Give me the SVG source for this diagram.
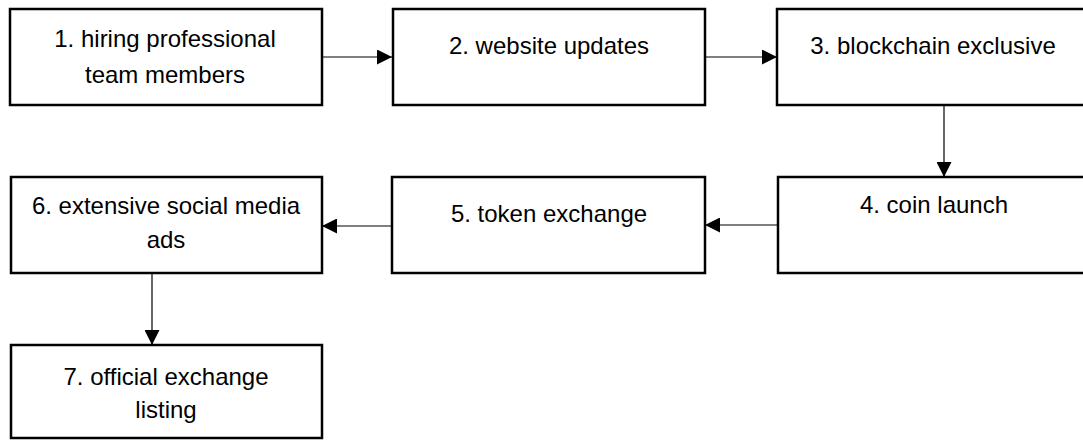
<svg xmlns="http://www.w3.org/2000/svg" width="1083" height="441" viewBox="0 0 1083 441">
<style>
  .box { fill: #ffffff; stroke: #000000; stroke-width: 2.5; }
  .lbl { font-family: "Liberation Sans", Arial, sans-serif; font-size: 24px; fill: #000000; text-anchor: middle; }
  .conn { stroke: #000000; stroke-width: 1.2; fill: none; marker-end: url(#arr); }
</style>
<defs>
  <marker id="arr" viewBox="0 0 15 15" refX="15" refY="7.5" markerWidth="15" markerHeight="15" markerUnits="userSpaceOnUse" orient="auto">
    <path d="M0,0 L15,7.5 L0,15 Z" fill="#000000"/>
  </marker>
</defs>
<rect width="1083" height="441" fill="#ffffff"/>
<g id="connectors">
  <line class="conn" x1="322" y1="57" x2="392" y2="57"/>
  <line class="conn" x1="705" y1="57" x2="777" y2="57"/>
  <line class="conn" x1="944" y1="105" x2="944" y2="177"/>
  <line class="conn" x1="778" y1="225" x2="705" y2="225"/>
  <line class="conn" x1="392" y1="226" x2="322" y2="226"/>
  <line class="conn" x1="152" y1="273" x2="152" y2="345"/>
</g>
<g id="node1">
  <rect class="box" x="10" y="9" width="312" height="96"/>
  <text class="lbl" x="165" y="47">1. hiring professional</text>
  <text class="lbl" x="165" y="83">team members</text>
</g>
<g id="node2">
  <rect class="box" x="393" y="9" width="312" height="96"/>
  <text class="lbl" x="549" y="54">2. website updates</text>
</g>
<g id="node3">
  <rect class="box" x="777" y="9" width="313" height="96"/>
  <text class="lbl" x="933" y="54">3. blockchain exclusive</text>
</g>
<g id="node4">
  <rect class="box" x="778" y="177" width="312" height="96"/>
  <text class="lbl" x="934" y="213">4. coin launch</text>
</g>
<g id="node5">
  <rect class="box" x="392" y="177" width="313" height="96"/>
  <text class="lbl" x="549" y="222">5. token exchange</text>
</g>
<g id="node6">
  <rect class="box" x="11" y="177" width="311" height="96"/>
  <text class="lbl" x="166" y="214">6. extensive social media</text>
  <text class="lbl" x="166" y="248">ads</text>
</g>
<g id="node7">
  <rect class="box" x="11" y="345" width="311" height="93"/>
  <text class="lbl" x="166" y="385">7. official exchange</text>
  <text class="lbl" x="166" y="418">listing</text>
</g>
</svg>
